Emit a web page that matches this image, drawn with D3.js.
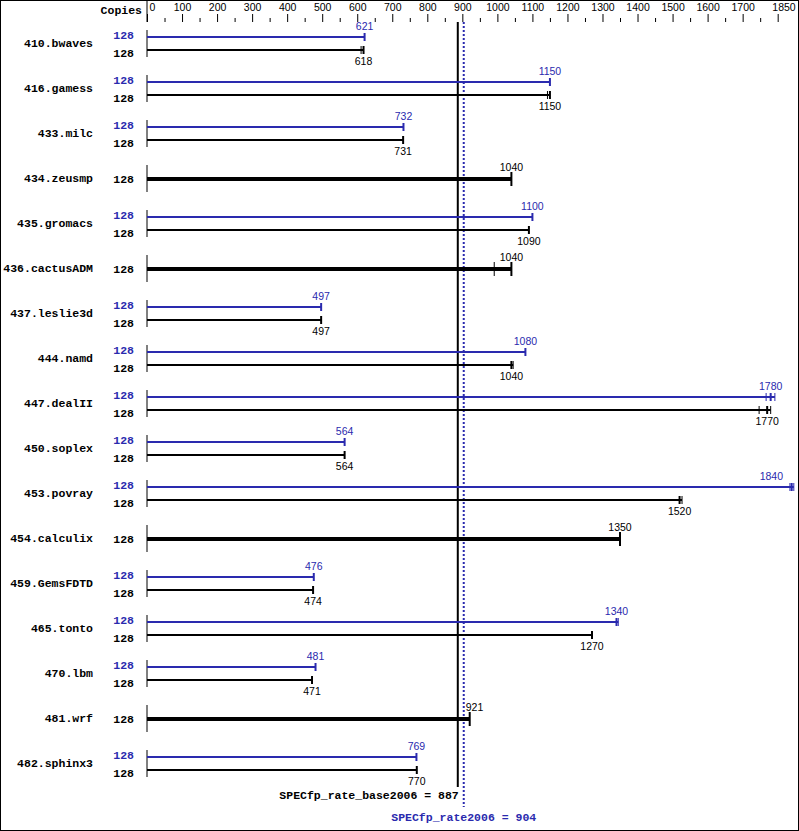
<!DOCTYPE html>
<html><head><meta charset="utf-8">
<script src="https://cdn.jsdelivr.net/npm/d3@7"></script>
<style>
html,body{margin:0;padding:0;background:#fff;}
svg{display:block;}
.lbl{font-family:"Liberation Mono","DejaVu Sans Mono",monospace;font-weight:bold;font-size:11.5px;}
.val{font-family:"Liberation Sans",Arial,sans-serif;font-size:10.5px;}
</style></head>
<body>
<script>
const benchmarks = ["410.bwaves","416.gamess","433.milc","434.zeusmp","435.gromacs","436.cactusADM","437.leslie3d","444.namd","447.dealII","450.soplex","453.povray","454.calculix","459.GemsFDTD","465.tonto","470.lbm","481.wrf","482.sphinx3"];
const peakValues = [621,1150,732,null,1100,null,497,1080,1780,564,1840,null,476,1340,481,null,769];
const baseValues = [618,1150,731,1040,1090,1040,497,1040,1770,564,1520,1350,474,1270,471,921,770];
const peakCopies = [128,128,128,null,128,null,128,128,128,128,128,null,128,128,128,null,128];
const baseCopies = [128,128,128,128,128,128,128,128,128,128,128,128,128,128,128,128,128];
const peakOtherRuns = [[],[],[],[],[],[],[],[],[1767,1792],[],[1835,1846],[],[],[1345],[],[],[]];
const baseOtherRuns = [[611],[1143],[],[],[],[991],[],[1045],[1747,1780],[],[1527],[],[],[],[],[],[]];
const majorTicks = [0,100,200,300,400,500,600,700,800,900,1000,1100,1200,1300,1400,1500,1600,1700,1800];
const minorTicks = [50,150,250,350,450,550,650,750,850,950,1050,1150,1250,1350,1450,1550,1650,1750];
const tickLabels = [0,100,200,300,400,500,600,700,800,900,1000,1100,1200,1300,1400,1500,1600,1700,1850];
const baseMetric = {name:"SPECfp_rate_base2006", value:887};
const peakMetric = {name:"SPECfp_rate2006", value:904};

const W = 799, H = 831;
const BLUE = "#2a2aae";
const svg = d3.select("body").append("svg").attr("width", W).attr("height", H);
svg.append("rect").attr("x",0.5).attr("y",0.5).attr("width",W-1).attr("height",H-1)
  .attr("fill","#fff").attr("stroke","#000");

const x = d3.scaleLinear().domain([0,1850]).range([147, 795.2]);
const y = d3.scalePoint().domain(benchmarks).range([43, 763]);

// top axis
const axisY = 22;
const gMajor = svg.append("g").attr("transform",`translate(0,${axisY})`)
  .call(d3.axisTop(x).tickValues(majorTicks).tickSize(8).tickFormat(""));
gMajor.select(".domain").remove();
const gMinor = svg.append("g").attr("transform",`translate(0,${axisY})`)
  .call(d3.axisTop(x).tickValues(minorTicks).tickSize(4).tickFormat(""));
gMinor.select(".domain").remove();
const gLab = svg.append("g").attr("transform",`translate(0,${axisY})`)
  .call(d3.axisTop(x).tickValues(tickLabels).tickSize(0).tickPadding(11).tickFormat(d3.format("d")));
gLab.select(".domain").remove();
gLab.selectAll("line").remove();
gLab.selectAll("text").style("font-size","10.5px").style("font-family",'"Liberation Sans",Arial,sans-serif').attr("fill","#000");
gLab.selectAll(".tick").filter(d => d === 0).select("text").attr("text-anchor","start").attr("x",2);
gLab.selectAll(".tick").filter(d => d === 1850).select("text").attr("text-anchor","end").attr("x",0);
svg.append("line").attr("x1",x(0)).attr("x2",x(0)).attr("y1",0).attr("y2",axisY).attr("stroke","#000");
svg.append("text").attr("class","lbl").attr("x",142).attr("y",14).attr("text-anchor","end").text("Copies");

// reference lines
svg.append("line").attr("x1",x(baseMetric.value)).attr("x2",x(baseMetric.value))
  .attr("y1",axisY).attr("y2",787).attr("stroke","#000").attr("stroke-width",2);
svg.append("line").attr("x1",x(peakMetric.value)).attr("x2",x(peakMetric.value))
  .attr("y1",axisY).attr("y2",807).attr("stroke",BLUE).attr("stroke-width",2).attr("stroke-dasharray","2,2");
svg.append("text").attr("class","lbl").attr("x",x(baseMetric.value)+1).attr("y",799)
  .attr("text-anchor","end").text(`${baseMetric.name} = ${baseMetric.value}`);
svg.append("text").attr("class","lbl").attr("x",x(peakMetric.value)).attr("y",821).attr("fill",BLUE)
  .attr("text-anchor","middle").text(`${peakMetric.name} = ${peakMetric.value}`);

function valueLabel(v, yy, color){
  const t = svg.append("text").attr("class","val").attr("y",yy).attr("fill",color).text(v);
  const w = t.node().getComputedTextLength();
  let left = x(v) - w/2;
  const lo = x(baseMetric.value)-2, hi = x(peakMetric.value)+1;
  if (left < hi && left + w > lo) left = hi + 1;
  if (left + w > 783) left = 783 - w;
  t.attr("x", left);
}

function bar(v, others, yy, color, thick){
  const sw = thick ? 4 : 2, ch = thick ? 7 : 4;
  const all = [v].concat(others);
  svg.append("line").attr("x1",x(0)).attr("x2",x(d3.max(all))).attr("y1",yy).attr("y2",yy)
    .attr("stroke",color).attr("stroke-width",sw);
  others.forEach(o => svg.append("line").attr("x1",x(o)).attr("x2",x(o))
    .attr("y1",yy-ch).attr("y2",yy+ch).attr("stroke",color).attr("stroke-width",1));
  svg.append("line").attr("x1",x(v)).attr("x2",x(v)).attr("y1",yy-ch).attr("y2",yy+ch)
    .attr("stroke",color).attr("stroke-width",2);
}

benchmarks.forEach((b,i) => {
  const cy = y(b);
  svg.append("text").attr("class","lbl").attr("x",93).attr("y",cy+4).attr("text-anchor","end").text(b);
  svg.append("line").attr("x1",x(0)).attr("x2",x(0)).attr("y1",cy-13).attr("y2",cy+14).attr("stroke","#000");
  if (peakValues[i] == null) {
    svg.append("text").attr("class","lbl").attr("x",134).attr("y",cy+5).attr("text-anchor","end").text(baseCopies[i]);
    bar(baseValues[i], baseOtherRuns[i], cy+1, "#000", true);
    valueLabel(baseValues[i], cy-7, "#000");
  } else {
    svg.append("text").attr("class","lbl").attr("x",134).attr("y",cy-4).attr("text-anchor","end").attr("fill",BLUE).text(peakCopies[i]);
    svg.append("text").attr("class","lbl").attr("x",134).attr("y",cy+14).attr("text-anchor","end").text(baseCopies[i]);
    bar(peakValues[i], peakOtherRuns[i], cy-6, BLUE, false);
    bar(baseValues[i], baseOtherRuns[i], cy+7, "#000", false);
    valueLabel(peakValues[i], cy-13, BLUE);
    valueLabel(baseValues[i], cy+22, "#000");
  }
});
</script>
</body></html>
